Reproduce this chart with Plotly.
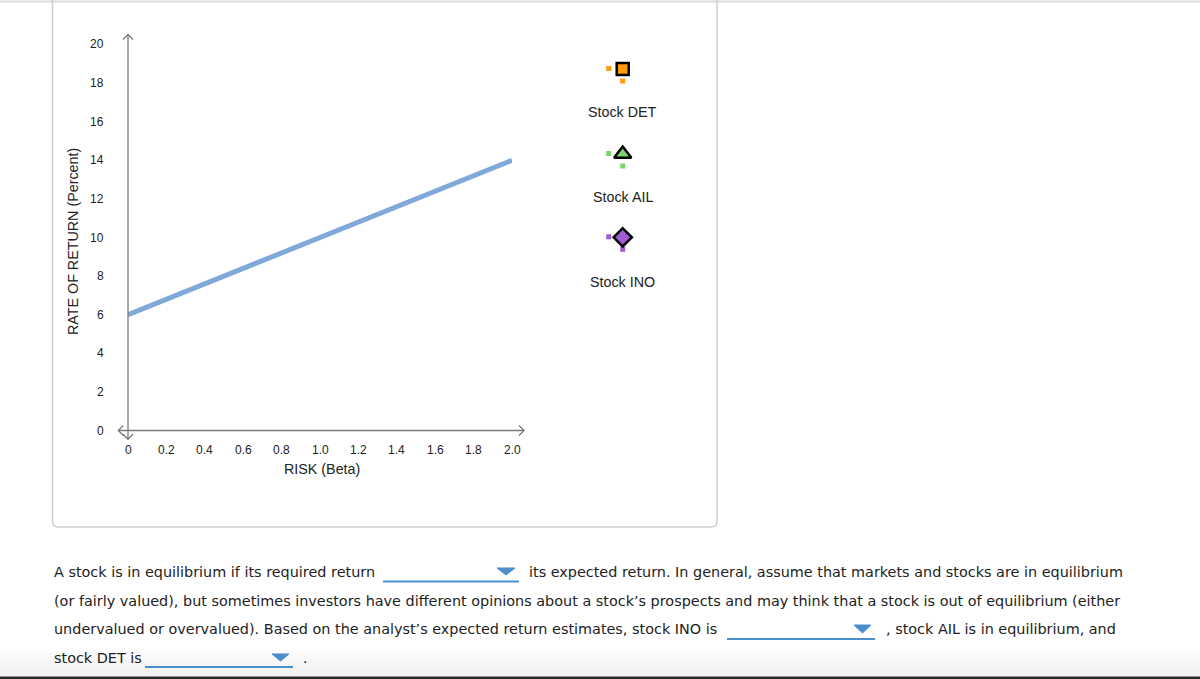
import plotly.graph_objects as go

# ---------------- data ----------------
beta_ticks = [0, 0.2, 0.4, 0.6, 0.8, 1.0, 1.2, 1.4, 1.6, 1.8, 2.0]
beta_labels = ["0", "0.2", "0.4", "0.6", "0.8", "1.0", "1.2", "1.4", "1.6", "1.8", "2.0"]
return_ticks = [0, 2, 4, 6, 8, 10, 12, 14, 16, 18, 20]
return_labels = [str(v) for v in return_ticks]

sml_beta = [0.0, 2.0]
sml_return = [6.0, 14.0]

stock_names = ["Stock DET", "Stock AIL", "Stock INO"]
stock_colors = ["#FF9A0A", "#7DD46C", "#A25BD6"]
stock_symbols = ["square", "triangle-up", "diamond"]

text_line1a = "A stock is in equilibrium if its required return"
text_line1b = "its expected return. In general, assume that markets and stocks are in equilibrium"
text_line2 = ("(or fairly valued), but sometimes investors have different opinions about a stock\u2019s "
              "prospects and may think that a stock is out of equilibrium (either")
text_line3a = "undervalued or overvalued). Based on the analyst\u2019s expected return estimates, stock INO is"
text_line3b = ", stock AIL is in equilibrium, and"
text_line4a = "stock DET is"
text_line4b = "."

# ---------------- layout geometry (pixels) ----------------
W, H = 1200, 679
X0, X2 = 128, 512          # pixel of beta 0 and beta 2
Y0, Y20 = 430.5, 44.5      # pixel of return 0 and 20
IN = 30                    # inset of the pixel overlay subplot


def px(x):
    return x / W


def py(y):
    return 1 - y / H


def pp(x, y):
    return f"{px(x):.5f},{py(y):.5f}"


fig = go.Figure()

# SML line
fig.add_trace(go.Scatter(x=sml_beta, y=sml_return, mode="lines",
                         line=dict(color="#7FA9D8", width=5),
                         hoverinfo="skip", showlegend=False, xaxis="x", yaxis="y"))

# legend-like marker palette (pixel overlay axes)
pal_x = 622.7
pal_y = [69, 154, 237.3]
label_y = [111.7, 196.7, 281.7]
big_sizes = [12, 15, 14]
for name, col, sym, my, ly, sz in zip(stock_names, stock_colors, stock_symbols, pal_y, label_y, big_sizes):
    fig.add_trace(go.Scatter(x=[pal_x - 14, pal_x], y=[my - 0.5, my + 12], mode="markers",
                             marker=dict(symbol="square", size=5, color=col, line=dict(width=0)),
                             hoverinfo="skip", showlegend=False, xaxis="x2", yaxis="y2"))
    fig.add_trace(go.Scatter(x=[pal_x], y=[my], mode="markers",
                             marker=dict(symbol=sym, size=sz, color=col,
                                         line=dict(color="#000000", width=2.5)),
                             hoverinfo="skip", showlegend=False, xaxis="x2", yaxis="y2"))

shapes = []


def pline(x0, y0, x1, y1, color, width, layer="above"):
    shapes.append(dict(type="line", xref="paper", yref="paper", x0=px(x0), x1=px(x1),
                       y0=py(y0), y1=py(y1), line=dict(color=color, width=width), layer=layer))


def ppath(points, color, width, fill=None, close=False):
    d = "M " + " L ".join(pp(x, y) for x, y in points) + (" Z" if close else "")
    s = dict(type="path", xref="paper", yref="paper", path=d,
             line=dict(color=color, width=width), layer="above")
    if fill:
        s["fillcolor"] = fill
    shapes.append(s)


def prect(x0, y0, x1, y1, fill, layer="above"):
    shapes.append(dict(type="rect", xref="paper", yref="paper", x0=px(x0), x1=px(x1),
                       y0=py(y1), y1=py(y0), fillcolor=fill, line=dict(width=0), layer=layer))


# faint bottom gradient
for i in range(8):
    yt = 644 + i * 4
    g = 255 - i * 2
    prect(0, yt, W, yt + 4, f"rgb({g},{g},{g})", layer="below")

# top line across page
pline(0, 1.5, W, 1.5, "#E2E2E2", 2.5)
# panel with rounded bottom corners
r = 6
L, R, B = 52.5, 717, 527
shapes.append(dict(type="path", xref="paper", yref="paper",
                   path=(f"M {pp(L, 0)} L {pp(L, B - r)} Q {pp(L, B)} {pp(L + r, B)} "
                         f"L {pp(R - r, B)} Q {pp(R, B)} {pp(R, B - r)} L {pp(R, 0)}"),
                   line=dict(color="#CFCFCF", width=1.5), layer="above"))

ax_col = "#7A7A7A"
aw = 1.3
# y axis with arrows
pline(X0, 439.3, X0, 34.5, ax_col, aw)
ppath([(X0 - 5, 39.5), (X0, 34.5), (X0 + 5, 39.5)], ax_col, aw)
ppath([(X0 - 5, 434.3), (X0, 439.3), (X0 + 5, 434.3)], ax_col, aw)
# x axis with arrows
pline(118.3, Y0, 524, Y0, ax_col, aw)
ppath([(123.3, Y0 - 5), (118.3, Y0), (123.3, Y0 + 5)], ax_col, aw)
ppath([(519, Y0 - 5), (524, Y0), (519, Y0 + 5)], ax_col, aw)

# dropdowns
blue = "#4A8ECC"
dropdowns = [(383, 519, 581.5, 497, 515, 568, 575),
             (727, 875, 639, 854, 871, 625, 633),
             (145, 293, 667, 272, 289, 654, 661)]
for ux0, ux1, uy, tx0, tx1, ty0, ty1 in dropdowns:
    pline(ux0, uy, ux1, uy, blue, 2)
    ppath([(tx0, ty0), (tx1, ty0), ((tx0 + tx1) / 2, ty1)], blue, 1, fill=blue, close=True)

# dark bottom edge
prect(0, 676.5, W, 679, "#2A2624")

annotations = []
tick_font = dict(family="Liberation Sans, Arial, sans-serif", size=12, color="#222222")
# tick labels placed through the axes' own scales
for v, t in zip(beta_ticks, beta_labels):
    annotations.append(dict(x=v, y=py(449.5), xref="x", yref="paper", text=t, showarrow=False,
                            xanchor="center", yanchor="middle", font=tick_font))
for v, t in zip(return_ticks, return_labels):
    annotations.append(dict(x=px(106), y=v, xref="paper", yref="y", text=t, showarrow=False,
                            xanchor="right", yanchor="middle", font=tick_font))

lab_font = dict(family="Liberation Sans, Arial, sans-serif", size=14.3, color="#222222")
for name, ly in zip(stock_names, label_y):
    annotations.append(dict(x=px(pal_x), y=py(ly), xref="paper", yref="paper", text=name,
                            showarrow=False, xanchor="center", yanchor="middle", font=lab_font))
annotations.append(dict(x=px(322), y=py(469), xref="paper", yref="paper", text="RISK (Beta)",
                        showarrow=False, xanchor="center", yanchor="middle", font=lab_font))
annotations.append(dict(x=px(73), y=py(242), xref="paper", yref="paper",
                        text="RATE OF RETURN (Percent)", showarrow=False, textangle=-90,
                        xanchor="center", yanchor="middle", font=lab_font))

para_font = dict(family="DejaVu Sans, Verdana, sans-serif", size=14.4, color="#222222")
segments = [(text_line1a, 52, 572), (text_line1b, 527, 572), (text_line2, 52, 600.5),
            (text_line3a, 52, 629), (text_line3b, 884, 629), (text_line4a, 52, 658),
            (text_line4b, 301, 658)]
for t, tx, ty in segments:
    annotations.append(dict(x=px(tx), y=py(ty), xref="paper", yref="paper", text=t,
                            showarrow=False, xanchor="left", yanchor="middle", font=para_font))

fig.update_layout(
    width=W, height=H, margin=dict(l=0, r=0, t=0, b=0),
    paper_bgcolor="white", plot_bgcolor="rgba(0,0,0,0)", dragmode=False,
    xaxis=dict(domain=[X0 / W, X2 / W], range=[0, 2.0], visible=False,
               fixedrange=True, anchor="y"),
    yaxis=dict(domain=[1 - Y0 / H, 1 - Y20 / H], range=[0, 20], visible=False,
               fixedrange=True, anchor="x"),
    xaxis2=dict(domain=[IN / W, 1 - IN / W], range=[IN, W - IN], visible=False,
                anchor="y2", fixedrange=True),
    yaxis2=dict(domain=[IN / H, 1 - IN / H], range=[H - IN, IN], visible=False,
                anchor="x2", fixedrange=True),
    shapes=shapes, annotations=annotations, showlegend=False,
)

fig.write_html("out.html", config={"displayModeBar": False})
